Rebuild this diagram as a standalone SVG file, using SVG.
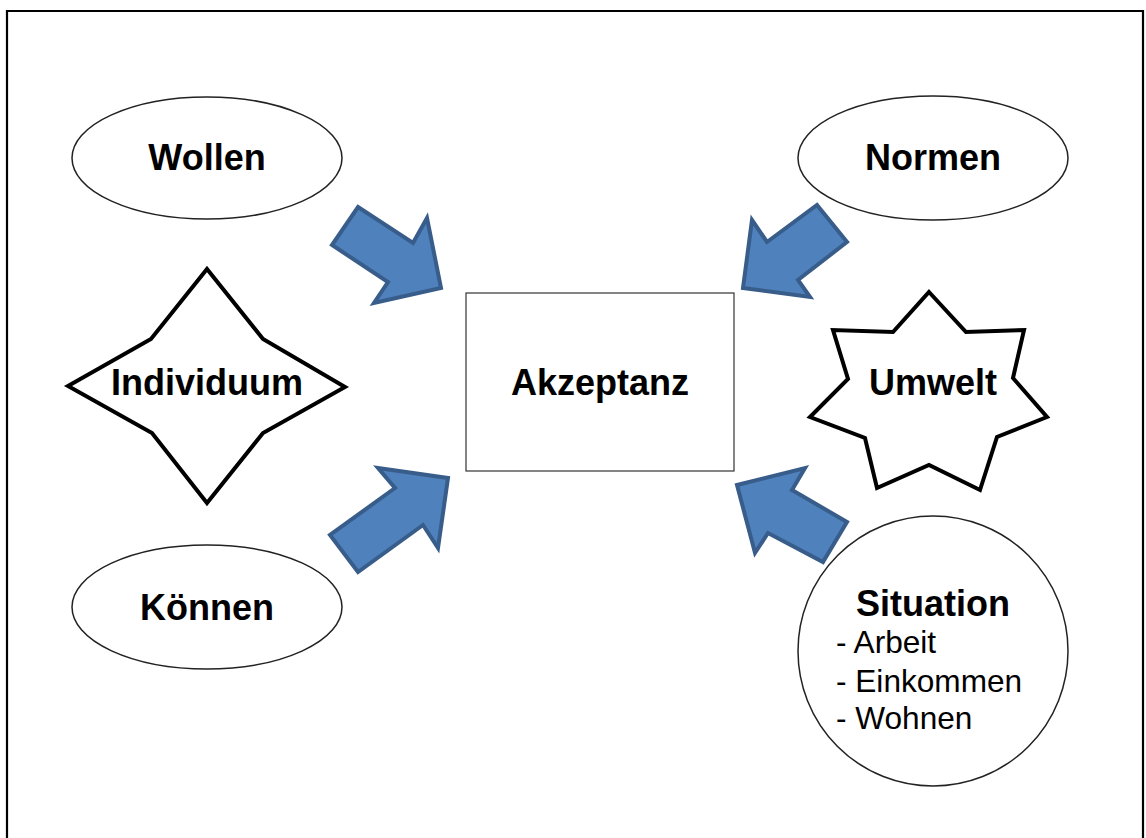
<svg xmlns="http://www.w3.org/2000/svg" width="1146" height="838" viewBox="0 0 1146 838">
  <style>
    .oval { fill: #ffffff; stroke: #222222; stroke-width: 1.5; }
    .shape { fill: #ffffff; stroke: #000000; stroke-width: 4; stroke-linejoin: miter; }
    .box { fill: #ffffff; stroke: #333333; stroke-width: 1.2; }
    .title { font-family: "Liberation Sans", Arial, sans-serif; font-weight: bold; font-size: 36px; fill: #000000; text-anchor: middle; }
    .item { font-family: "Liberation Sans", Arial, sans-serif; font-size: 31.6px; fill: #000000; }
    .arrow { fill: #4F81BD; stroke: #385D8A; stroke-width: 4; stroke-linejoin: miter; }
  </style>

  <!-- frame -->
  <rect x="0" y="0" width="1146" height="838" fill="#ffffff"/>
  <path d="M7 845 V11 H1143 V845" fill="none" stroke="#000000" stroke-width="2.2"/>

  <g id="wollen">
    <ellipse class="oval" cx="207" cy="158" rx="135" ry="61"/>
    <text class="title" x="207" y="170">Wollen</text>
  </g>

  <g id="normen">
    <ellipse class="oval" cx="933" cy="158" rx="135" ry="62"/>
    <text class="title" x="933" y="170">Normen</text>
  </g>

  <g id="koennen">
    <ellipse class="oval" cx="207" cy="607" rx="135" ry="62"/>
    <text class="title" x="207" y="620">Können</text>
  </g>

  <g id="situation">
    <circle class="oval" cx="933" cy="651" r="135"/>
    <text class="title" x="933" y="616">Situation</text>
    <text class="item" x="836" y="653">- Arbeit</text>
    <text class="item" x="836" y="692">- Einkommen</text>
    <text class="item" x="836" y="729">- Wohnen</text>
  </g>

  <g id="individuum">
    <polygon class="shape" points="207,269 263,339 345,387 263,433 207,503 152,433 68,386 151,339"/>
    <text class="title" x="207" y="395">Individuum</text>
  </g>

  <g id="umwelt">
    <polygon class="shape" points="929,292 966,332 1024,330 1013,378 1047,417 997,437 980,490 929,465 877,488 865,438 810,417 848,379 833,330 893,332"/>
    <text class="title" x="933" y="395">Umwelt</text>
  </g>

  <g id="akzeptanz">
    <rect class="box" x="466" y="293" width="268" height="178"/>
    <text class="title" x="600" y="395">Akzeptanz</text>
  </g>

  <!-- block arrows pointing at the centre box -->
  <g id="connectors">
    <polygon class="arrow" points="358,207 413,243 427,218 441,288 374,303 388,282 332,245"/>
    <polygon class="arrow" points="817,205 847,242 798,280 810,297 743,288 752,220 767,242"/>
    <polygon class="arrow" points="378,468 448,478 438,548 423,525 358,572 330,535 395,488"/>
    <polygon class="arrow" points="737,485 805,468 792,490 847,522 823,562 768,533 755,553"/>
  </g>
</svg>
